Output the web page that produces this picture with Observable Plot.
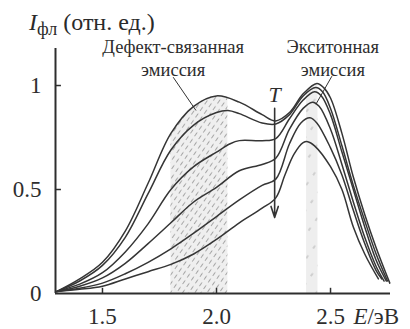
<!DOCTYPE html>
<html><head><meta charset="utf-8">
<script src="https://cdn.jsdelivr.net/npm/d3@7"></script>
<script src="https://cdn.jsdelivr.net/npm/@observablehq/plot@0.6"></script>
<style>
body{margin:0;background:#fff;}
#wrap{position:relative;width:410px;height:329px;font-family:"Liberation Serif","Times New Roman",Tinos,"DejaVu Serif","Noto Serif",serif;}
#title{position:absolute;left:29px;top:8px;font-size:24px;color:#2a2a2a;white-space:nowrap;line-height:28px;}
#title i{font-style:italic;}
#title sub{font-size:18px;vertical-align:-5px;line-height:0;}
</style></head><body>
<div id="wrap"><div id="title"><i>I</i><sub>фл</sub> (отн. ед.)</div></div>
<script>
// Spectra: photon energy E (eV) and relative PL intensity, temperature rising c1 -> c6
const E1 = [1.30,1.40,1.50,1.60,1.70,1.80,1.90,2.00,2.10,2.20,2.26,2.32,2.38,2.44,2.47,2.50,2.55,2.60,2.65,2.70,2.76];
const I1 = [0.01,0.07,0.15,0.30,0.53,0.77,0.90,0.95,0.92,0.86,0.83,0.87,0.96,1.01,0.99,0.94,0.77,0.56,0.38,0.22,0.05];
const E2 = [1.30,1.40,1.50,1.60,1.70,1.80,1.90,2.00,2.05,2.10,2.20,2.26,2.32,2.38,2.435,2.465,2.50,2.55,2.60,2.65,2.70,2.75];
const I2 = [0.01,0.06,0.135,0.27,0.48,0.69,0.81,0.87,0.88,0.865,0.82,0.815,0.86,0.95,0.99,0.97,0.89,0.71,0.52,0.35,0.19,0.06];
const E3 = [1.30,1.40,1.50,1.60,1.70,1.80,1.90,2.00,2.06,2.10,2.20,2.26,2.32,2.38,2.43,2.46,2.50,2.55,2.60,2.65,2.70,2.745];
const I3 = [0.01,0.045,0.10,0.20,0.335,0.50,0.61,0.68,0.72,0.735,0.735,0.745,0.84,0.93,0.97,0.95,0.86,0.68,0.50,0.32,0.16,0.06];
const E4 = [1.30,1.40,1.50,1.60,1.70,1.80,1.90,2.00,2.10,2.20,2.26,2.32,2.38,2.42,2.45,2.50,2.55,2.60,2.65,2.70,2.735];
const I4 = [0.01,0.035,0.075,0.145,0.24,0.34,0.44,0.51,0.59,0.62,0.65,0.79,0.89,0.92,0.90,0.79,0.62,0.44,0.27,0.13,0.06];
const E5 = [1.30,1.40,1.50,1.60,1.70,1.80,1.90,2.00,2.10,2.20,2.26,2.32,2.37,2.41,2.44,2.50,2.55,2.60,2.65,2.70,2.725];
const I5 = [0.01,0.025,0.05,0.095,0.15,0.215,0.29,0.37,0.45,0.52,0.55,0.72,0.82,0.845,0.82,0.70,0.57,0.40,0.24,0.11,0.07];
const E6 = [1.30,1.40,1.50,1.60,1.70,1.80,1.90,2.00,2.10,2.20,2.26,2.30,2.34,2.38,2.40,2.43,2.50,2.55,2.60,2.65,2.71];
const I6 = [0.01,0.02,0.035,0.07,0.105,0.14,0.19,0.26,0.34,0.41,0.46,0.57,0.67,0.725,0.73,0.71,0.61,0.50,0.32,0.19,0.07];

const seriesNames = ["c1","c2","c3","c4","c5","c6"];
const seriesE = [E1,E2,E3,E4,E5,E6];
const seriesI = [I1,I2,I3,I4,I5,I6];

const xDomain = [1.294, 2.763];
const yDomain = [0, 1.178];
const xTicks = [1.5, 2.0, 2.5];
const yTicks = [0, 0.5, 1];
const yTickLabels = ["0", "0.5", "1"];

const defectBand = [1.80, 2.05];
const excitonBand = [2.395, 2.445];

const noteText = ["Дефект-связанная", "эмиссия", "Экситонная", "эмиссия"];
const noteE = [1.81, 1.81, 2.51, 2.51];
const noteI = [1.183, 1.072, 1.183, 1.072];

const leaderE1 = [1.81, 2.506];
const leaderI1 = [1.04, 1.045];
const leaderE2 = [1.91, 2.436];
const leaderI2 = [0.88, 0.91];

const arrowE = [2.255];
const arrowFrom = [0.89];
const arrowTo = [0.365];
const tLabelE = [2.255];
const tLabelI = [0.955];

const xLabelE = [2.662];
const xLabelI = [-0.068];

// build table
const data = seriesNames.flatMap((s, k) => seriesE[k].map((e, i) => ({series: s, E: e, I: seriesI[k][i]})));
const topCurve = data.filter(d => d.series === "c1");
const leaders = leaderE1.map((e, i) => ({x1: e, y1: leaderI1[i], x2: leaderE2[i], y2: leaderI2[i]}));
const arrows = arrowE.map((e, i) => ({E: e, from: arrowFrom[i], to: arrowTo[i]}));

const ink = "#2e2e2e";
const serif = "'Liberation Serif', 'Times New Roman', Tinos, 'DejaVu Serif', 'Noto Serif', serif";

const plot = Plot.plot({
  width: 410, height: 329,
  marginLeft: 55, marginRight: 20, marginTop: 48, marginBottom: 36,
  x: {domain: xDomain},
  y: {domain: yDomain},
  style: {fontFamily: serif, fontSize: "23px", color: ink, background: "transparent", overflow: "visible"},
  marks: [
    Plot.areaY(topCurve, {x: "E", y: "I", curve: "catmull-rom", fill: "#eeeeee"}),
    Plot.areaY(topCurve, {x: "E", y: "I", curve: "catmull-rom", fill: "#eeeeee"}),
    Plot.line(data, {x: "E", y: "I", z: "series", curve: "catmull-rom", stroke: "#353535", strokeWidth: 1.5}),
    Plot.ruleY([yDomain[0]], {stroke: ink, strokeWidth: 2}),
    Plot.ruleX([xDomain[0]], {stroke: ink, strokeWidth: 2}),
    Plot.ruleX(xTicks, {y1: 0, y2: 0.025, stroke: ink, strokeWidth: 1.5}),
    Plot.ruleY(yTicks.slice(1), {x1: xDomain[0], x2: xDomain[0] + 0.026, stroke: ink, strokeWidth: 1.5}),
    Plot.axisX(xTicks, {tickSize: 0, tickPadding: 14, tickFormat: d => d.toFixed(1), label: null, fontSize: 23}),
    Plot.axisY(yTicks, {tickSize: 0, tickPadding: 14, tickFormat: (d, i) => yTickLabels[i], label: null, fontSize: 23}),
    Plot.link(leaders, {x1: "x1", y1: "y1", x2: "x2", y2: "y2", stroke: "#333", strokeWidth: 1}),
    Plot.arrow(arrows, {x1: "E", x2: "E", y1: "from", y2: "to", stroke: "#333", strokeWidth: 1.6, headLength: 11, headAngle: 36}),
    Plot.text(noteText, {x: noteE, y: noteI, text: d => d, fontSize: 18.5, fill: ink}),
    Plot.text(["T"], {x: tLabelE, y: tLabelI, text: d => d, fontSize: 22, fontStyle: "italic", fill: ink}),
    Plot.text(["E"], {x: xLabelE, y: xLabelI, text: d => d, textAnchor: "end", lineAnchor: "top", fontSize: 23, fontStyle: "italic", fill: ink}),
    Plot.text(["/эВ"], {x: xLabelE, y: xLabelI, text: d => d, textAnchor: "start", lineAnchor: "top", fontSize: 23, fill: ink})
  ]
});

// patterns and band clipping through the plot's own x scale
const svg = d3.select(plot);
svg.selectAll("text").style("font-family", serif);
const xs = plot.scale("x");
const defs = svg.insert("defs", ":first-child");
const hatch = defs.append("pattern").attr("id", "hatch").attr("patternUnits", "userSpaceOnUse")
  .attr("width", 8).attr("height", 5).attr("patternTransform", "rotate(-55)");
hatch.append("rect").attr("width", 8).attr("height", 5).attr("fill", "#efefef");
hatch.append("line").attr("x1", 0).attr("y1", 2.5).attr("x2", 4.5).attr("y2", 2.5)
  .attr("stroke", "#8e8e8e").attr("stroke-width", 0.75);
const ex = defs.append("pattern").attr("id", "exband").attr("patternUnits", "userSpaceOnUse")
  .attr("width", 12).attr("height", 14).attr("patternTransform", "rotate(-55)");
ex.append("rect").attr("width", 12).attr("height", 14).attr("fill", "#eeeeee");
ex.append("line").attr("x1", 0).attr("y1", 7).attr("x2", 3.5).attr("y2", 7)
  .attr("stroke", "#a0a0a0").attr("stroke-width", 0.8);

function clip(id, band) {
  const a = xs.apply(band[0]), b = xs.apply(band[1]);
  defs.append("clipPath").attr("id", id).append("rect")
    .attr("x", a).attr("y", 0).attr("width", b - a).attr("height", 329);
}
clip("clipDefect", defectBand);
clip("clipExciton", excitonBand);
const areas = svg.selectAll('g[aria-label="area"]').nodes();
d3.select(areas[0]).attr("clip-path", "url(#clipDefect)").attr("fill", "url(#hatch)");
d3.select(areas[1]).attr("clip-path", "url(#clipExciton)").attr("fill", "url(#exband)");

document.getElementById("wrap").prepend(plot);
</script>
</body></html>
